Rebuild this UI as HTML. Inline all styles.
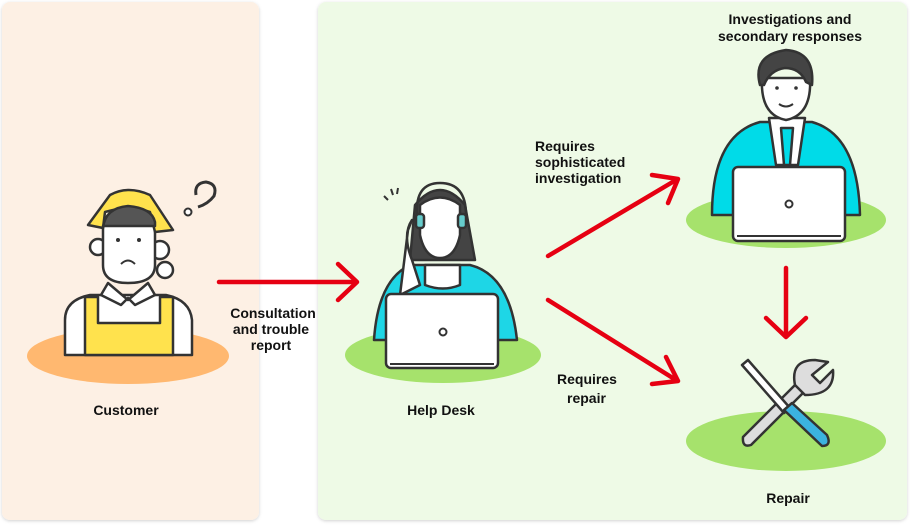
<!DOCTYPE html>
<html><head><meta charset="utf-8"><style>
html,body{margin:0;padding:0;background:#fff;}
svg{display:block}
text{font-family:"Liberation Sans",sans-serif;font-weight:bold;font-size:14px;fill:#111;}
</style></head><body>
<svg width="910" height="525" viewBox="0 0 910 525" xmlns="http://www.w3.org/2000/svg">
<defs><filter id="sh" x="-5%" y="-5%" width="110%" height="110%"><feDropShadow dx="0" dy="1" stdDeviation="1.5" flood-color="#000" flood-opacity="0.18"/></filter></defs>
<rect x="2" y="2" width="257" height="518" rx="8" fill="#fdf0e4" filter="url(#sh)"/>
<rect x="318" y="2" width="589" height="518" rx="8" fill="#eefae6" filter="url(#sh)"/>

<!-- Customer -->
<ellipse cx="128" cy="356" rx="101" ry="28" fill="#ffb870"/>
<g stroke="#333" stroke-width="2.5" stroke-linejoin="round">
<path d="M65 355 V320 Q65 300 90 295 L166 295 Q190 300 192 320 V355 Z" fill="#fff"/>
<path d="M85 355 V297 H98 V323 H160 V297 H173 V355 Z" fill="#ffe24d"/>
<path d="M108 283 L128 300 L148 283 L155 295 L135 305 L128 298 L121 305 L101 295 Z" fill="#fff"/>
<circle cx="160" cy="250" r="9" fill="#fff"/>
<circle cx="98" cy="247" r="8" fill="#fff"/>
<path d="M103 225 H155 V265 Q155 283 128 283 Q103 283 103 265 Z" fill="#fff"/>
<path d="M88 225 L110 195 Q128 185 150 195 L173 230 L155 232 L150 212 Q128 205 105 212 L103 228 Z" fill="#ffe24d"/>
<path d="M103 228 Q105 208 128 206 Q152 208 155 222 L155 226 H103 Z" fill="#555"/>
<circle cx="165" cy="270" r="8" fill="#fff"/>
</g>
<circle cx="118" cy="240" r="2" fill="#333"/><circle cx="139" cy="240" r="2" fill="#333"/>
<path d="M121 264 Q128 257 135 264" stroke="#333" stroke-width="2" fill="none"/>
<path d="M196 195 Q194 183 206 182 Q218 184 214 196 Q208 204 198 207" stroke="#333" stroke-width="3" fill="none"/>
<circle cx="188" cy="212" r="3.5" fill="#fff" stroke="#333" stroke-width="2"/>
<text x="126" y="415" text-anchor="middle">Customer</text>

<!-- arrow 1 -->
<g stroke="#e60012" stroke-width="4.5" fill="none" stroke-linecap="round" stroke-linejoin="round">
<line x1="219" y1="282" x2="356" y2="282"/><polyline points="338,264 357,282 338,300"/>
<line x1="548" y1="256" x2="676" y2="180"/><polyline points="652,175 678,179 668,203"/>
<line x1="548" y1="300" x2="676" y2="380"/><polyline points="666,357 678,381 652,384"/>
<line x1="786" y1="268" x2="786" y2="335"/><polyline points="766,318 786,337 806,318"/>
</g>
<text x="273" y="318" text-anchor="middle">Consultation</text>
<text x="271" y="334" text-anchor="middle">and trouble</text>
<text x="271" y="350" text-anchor="middle">report</text>

<!-- Help desk -->
<ellipse cx="443" cy="355" rx="98" ry="28" fill="#a6e26c"/>
<g stroke="#333" stroke-width="2.5" stroke-linejoin="round">
<path d="M415 205 Q440 175 465 205 L475 260 L410 260 Z" fill="#444"/>
<path d="M374 340 Q378 280 410 265 H470 Q510 275 517 340 Z" fill="#1ed6e6"/>
<path d="M425 265 H460 V285 Q443 292 425 285 Z" fill="#fff"/>
<path d="M420 205 Q440 190 460 205 V235 Q455 258 440 258 Q425 258 420 235 Z" fill="#fff"/>
<path d="M412 220 Q402 235 412 260 L420 285 L400 295 L408 230 Z" fill="#fff"/>
<path d="M417 215 Q415 183 440 183 Q466 183 466 215" fill="none"/>
<rect x="416" y="214" width="8" height="14" rx="3" fill="#6cc"/><rect x="458" y="214" width="8" height="14" rx="3" fill="#6cc"/>
<rect x="386" y="294" width="112" height="74" rx="5" fill="#fff"/>
</g>
<circle cx="443" cy="332" r="3.5" fill="none" stroke="#333" stroke-width="2"/>
<line x1="390" y1="364" x2="494" y2="364" stroke="#333" stroke-width="2"/>
<path d="M384 196 l4 4 M391 189 l2 6 M398 188 l-1 6" stroke="#333" stroke-width="2"/>
<text x="441" y="415" text-anchor="middle">Help Desk</text>

<text x="535" y="151">Requires</text>
<text x="535" y="167">sophisticated</text>
<text x="535" y="183">investigation</text>
<text x="557" y="384">Requires</text>
<text x="567" y="403">repair</text>

<!-- Investigator -->
<text x="790" y="24" text-anchor="middle">Investigations and</text>
<text x="790" y="41" text-anchor="middle">secondary responses</text>
<ellipse cx="786" cy="220" rx="100" ry="28" fill="#a6e26c"/>
<g stroke="#333" stroke-width="2.5" stroke-linejoin="round">
<path d="M712 215 Q712 135 760 122 H812 Q858 135 860 215 Z" fill="#00dbe8"/>
<path d="M769 118 H805 L798 165 H776 Z" fill="#fff"/>
<path d="M781 128 H793 L790 165 H784 Z" fill="#00dbe8"/>
<path d="M762 78 Q760 115 786 120 Q812 115 810 78 Z" fill="#fff"/>
<path d="M760 85 Q752 55 786 50 Q815 52 812 85 L806 82 Q800 68 785 68 Q770 70 764 85 Z" fill="#444"/>
<rect x="733" y="167" width="112" height="74" rx="5" fill="#fff"/>
</g>
<circle cx="789" cy="204" r="3.5" fill="none" stroke="#333" stroke-width="2"/>
<line x1="737" y1="236" x2="841" y2="236" stroke="#333" stroke-width="2"/>
<circle cx="777" cy="88" r="1.8" fill="#333"/><circle cx="796" cy="88" r="1.8" fill="#333"/>
<path d="M779 104 Q786 109 793 104" stroke="#333" stroke-width="2" fill="none"/>

<!-- Repair -->
<ellipse cx="786" cy="441" rx="100" ry="30" fill="#a6e26c"/>
<g stroke="#333" stroke-width="2.5" stroke-linejoin="round">
<path d="M743 437 L800 380 L808 388 L751 445 Q742 448 743 437 Z" fill="#ddd"/>
<path d="M795 385 Q790 360 815 360 L828 362 L812 375 L820 383 L833 370 Q835 395 805 395 Z" fill="#ddd"/>
<path d="M742 365 L748 360 L790 408 L784 413 Z" fill="#fff"/>
<path d="M784 410 L792 403 L827 435 Q832 446 822 446 Z" fill="#3bb3e0"/>
</g>
<text x="788" y="503" text-anchor="middle">Repair</text>
</svg>
</body></html>
